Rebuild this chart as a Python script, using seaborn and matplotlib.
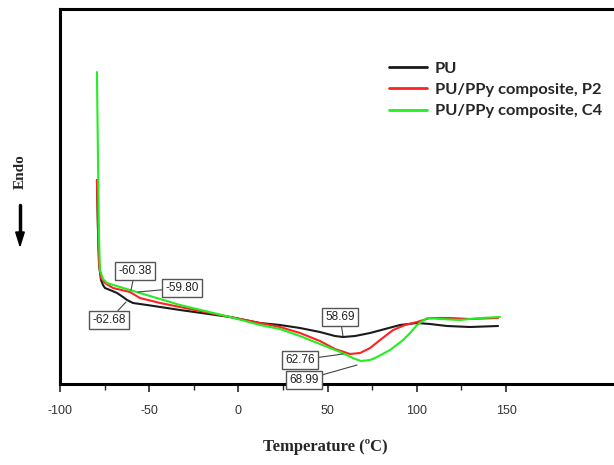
import numpy as np
import pandas as pd
import matplotlib
matplotlib.use('Agg')
import matplotlib.pyplot as plt
import seaborn as sns

# DSC traces (heat flow in arbitrary units)
temp_pu = [-79.3, -78.7, -78.1, -77.0, -75.9, -74.8, -72.0, -68.0, -64.7, -62.4, -59.1, -51.2, -32.7, -4.7,
           12.1, 23.3, 34.5, 45.7, 54.1, 58.6, 65.4, 73.8, 82.2, 90.6, 100.1, 107.4, 116.9, 129.8, 145.5]
heat_pu = [204, 154, 119, 104, 99, 96, 94, 91, 87, 84, 81, 79, 74, 67,
           61, 59, 56, 52, 48, 47, 48, 51, 55, 59, 61, 60, 58, 57, 58]

temp_p2 = [-79.3, -78.7, -78.1, -77.0, -74.8, -70.3, -60.8, -55.2, -43.9, -32.7, -4.7, 12.1, 23.3, 34.5,
           45.7, 54.1, 62.6, 68.2, 73.8, 79.4, 86.7, 93.4, 100.1, 107.4, 118.6, 129.8, 145.5]
heat_p2 = [204, 154, 119, 106, 101, 96, 92, 86, 81, 77, 67, 61, 57, 51,
           43, 35, 30, 31, 36, 44, 54, 59, 62, 66, 66, 65, 66]

temp_c4 = [-79.3, -78.7, -78.1, -77.6, -75.9, -73.7, -66.4, -60.8, -55.2, -43.9, -32.7, -4.7, 12.1, 23.3, 34.5,
           45.7, 57.0, 65.4, 68.7, 73.8, 77.7, 85.0, 92.3, 96.2, 100.1, 105.7, 113.0, 124.2, 135.4, 146.6]
heat_c4 = [312, 224, 144, 114, 105, 101, 97, 94, 91, 85, 79, 67, 59, 55, 48,
           40, 32, 25, 23, 24, 27, 34, 44, 51, 59, 66, 65, 64, 66, 67]

labels = ['PU', 'PU/PPy composite, P2', 'PU/PPy composite, C4']
colors = ['#1a1a1a', '#ff2222', '#22ee22']

# peak labels: text, text position, point
peaks = [
    ('-60.38', (-58.0, 113), (-60.2, 94)),
    ('-59.80', (-31.6, 96), (-56.3, 92)),
    ('-62.68', (-72.5, 64), (-63.0, 82)),
    ('58.69', (57.0, 67), (58.6, 48)),
    ('62.76', (34.5, 24), (58.6, 30)),
    ('68.99', (36.8, 4), (66.5, 19)),
]

df = pd.concat([
    pd.DataFrame({'T': temp_pu, 'H': heat_pu, 'sample': labels[0]}),
    pd.DataFrame({'T': temp_p2, 'H': heat_p2, 'sample': labels[1]}),
    pd.DataFrame({'T': temp_c4, 'H': heat_c4, 'sample': labels[2]}),
])

sns.set_style('white')
plt.rcParams['axes.unicode_minus'] = False
fig = plt.figure(figsize=(6.14, 4.65), dpi=100)
ax = fig.add_axes([60/614, 1 - 384/465, 554/614, 375/465])

sns.lineplot(data=df, x='T', y='H', hue='sample', palette=colors, sort=False,
             estimator=None, linewidth=1.5, ax=ax)

ax.set_xlim(-100, 210.5)
ax.set_ylim(0, 375)
ax.set_xticks([-100, -50, 0, 50, 100, 150])
ax.set_xticks(list(np.arange(-75, 150, 50)), minor=True)
ax.set_yticks([])
ax.set_xlabel('')
ax.set_ylabel('')
ax.tick_params(axis='x', which='major', direction='out', length=6, width=1.2, bottom=True,
               labelsize=9, labelcolor='#333333', pad=9)
ax.tick_params(axis='x', which='minor', direction='out', length=4, width=1, bottom=True)
for lab in ax.get_xticklabels():
    lab.set_family('Liberation Sans')
for side in ['left', 'top', 'bottom']:
    ax.spines[side].set_linewidth(2.2)
    ax.spines[side].set_color('black')
ax.spines['right'].set_visible(False)

for txt, xy_text, xy in peaks:
    ax.annotate(txt, xy=xy, xytext=xy_text, ha='center', va='center',
                fontsize=8.5, family='Liberation Sans', color='#222222',
                bbox=dict(boxstyle='square,pad=0.25', fc='white', ec='#555555', lw=1),
                arrowprops=dict(arrowstyle='-', color='#444444', lw=0.8, shrinkA=0, shrinkB=0))

leg = ax.legend(loc='upper left', bbox_to_anchor=(0.567, 0.9), frameon=False,
                handlelength=2.3, handletextpad=0.5, labelspacing=0.42,
                prop={'family': 'Lato', 'weight': 'bold', 'size': 11.8})
for line in leg.get_lines():
    line.set_linewidth(2)

fig.text(325/614, 1 - 447/465, 'Temperature (ºC)', ha='center', va='center',
         family='Liberation Serif', fontweight='bold', fontsize=12)
fig.text(20/614, 1 - 172/465, 'Endo', ha='center', va='center', rotation=90,
         family='Liberation Serif', fontweight='bold', fontsize=11)
fig.add_artist(plt.Line2D([20/614, 20/614], [1 - 205/465, 1 - 235/465], color='black', lw=2.5))
fig.patches.append(matplotlib.patches.FancyArrow(20/614, 1 - 232/465, 0, -0.03, width=0.004,
                                                 head_width=0.014, head_length=0.03,
                                                 length_includes_head=True, color='black',
                                                 transform=fig.transFigure, figure=fig))

fig.savefig('out.png', dpi=100)
